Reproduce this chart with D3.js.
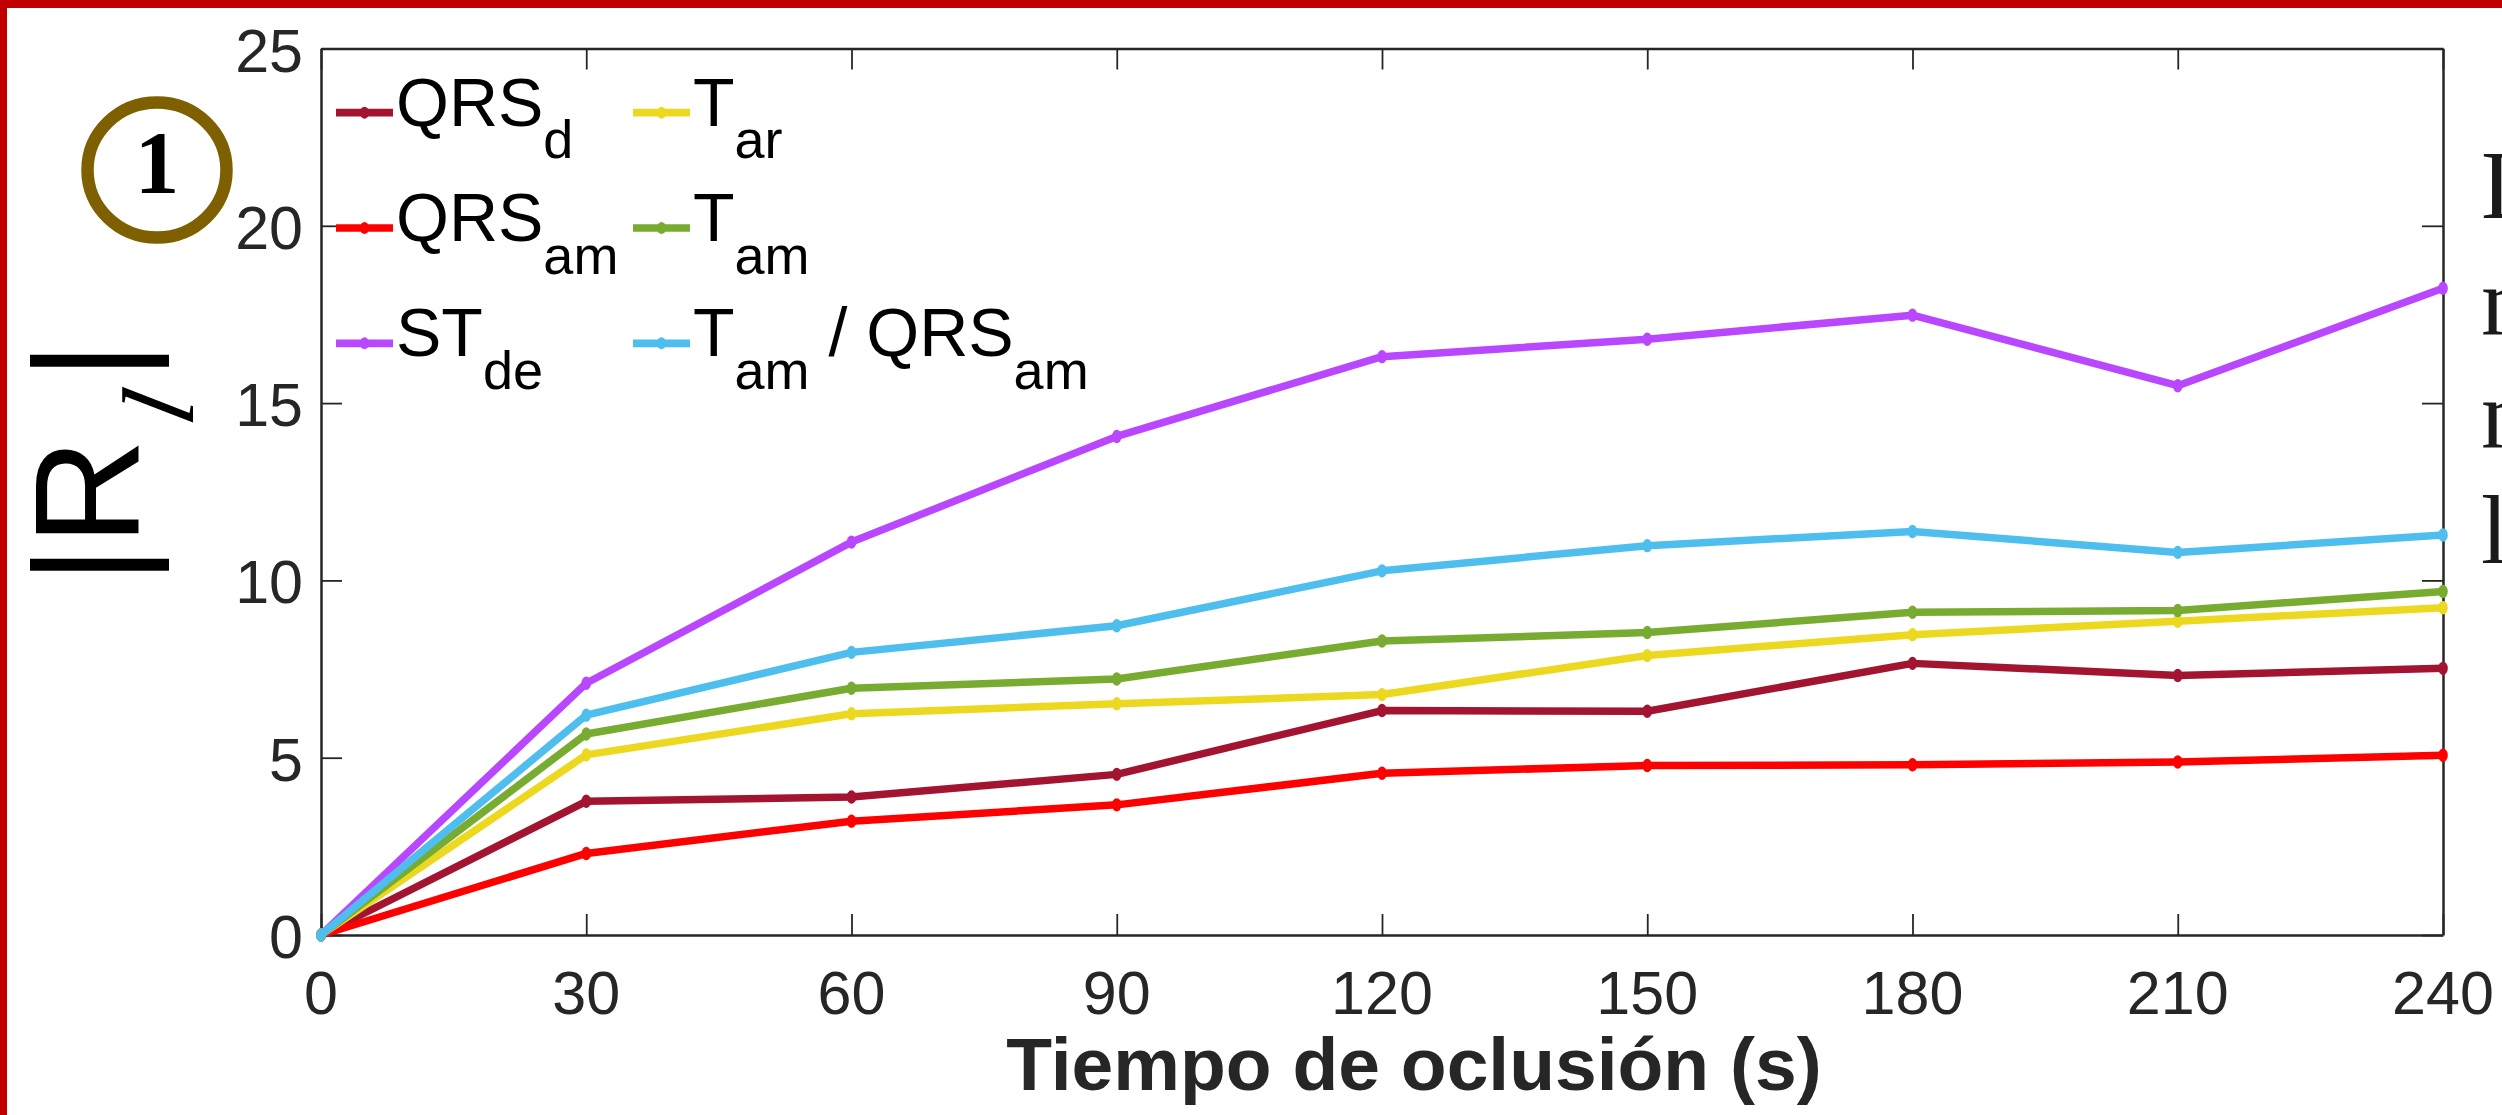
<!DOCTYPE html>
<html>
<head>
<meta charset="utf-8">
<script src="https://cdn.jsdelivr.net/npm/d3@7/dist/d3.min.js"></script>
<style>
  html, body { margin: 0; padding: 0; background: #ffffff; overflow: hidden; }
  svg { display: block; }
</style>
</head>
<body>
<svg id="chart" width="2502" height="1115"></svg>
<script>
// ---------------- data ----------------
const times = [0, 30, 60, 90, 120, 150, 180, 210, 240];
const xTicks = [0, 30, 60, 90, 120, 150, 180, 210, 240];
const yTicks = [0, 5, 10, 15, 20, 25];

const QRS_d   = [0, 3.77, 3.89, 4.53, 6.33, 6.31, 7.66, 7.32, 7.52];
const QRS_am  = [0, 2.30, 3.21, 3.67, 4.56, 4.78, 4.80, 4.88, 5.07];
const ST_de   = [0, 7.10, 11.08, 14.06, 16.31, 16.80, 17.48, 15.49, 18.24];
const T_ar    = [0, 5.08, 6.24, 6.52, 6.78, 7.88, 8.47, 8.85, 9.23];
const T_am    = [0, 5.67, 6.96, 7.22, 8.29, 8.53, 9.10, 9.15, 9.69];
const T_am_QRS_am = [0, 6.20, 7.97, 8.72, 10.27, 10.98, 11.38, 10.79, 11.28];

const seriesNames = ["QRS_d", "QRS_am", "ST_de", "T_ar", "T_am", "T_am / QRS_am"];
const seriesValues = [QRS_d, QRS_am, ST_de, T_ar, T_am, T_am_QRS_am];
const seriesColors = ["#A2142F", "#FF0000", "#B847FF", "#EDD820", "#77AC30", "#4DBEEE"];
// legend label parts: [text, isSubscript]
const legendLabels = [
  [["QRS", false], ["d", true]],
  [["QRS", false], ["am", true]],
  [["ST", false], ["de", true]],
  [["T", false], ["ar", true]],
  [["T", false], ["am", true]],
  [["T", false], ["am", true], [" / QRS", false], ["am", true]]
];
const xTitle = "Tiempo de oclusión (s)";
const sideLetters = ["L", "n", "n", "l"];

// ---------------- layout ----------------
const svg = d3.select("#chart");
const L = 321, R = 2443, T = 48.5, B = 935;
const x = d3.scaleLinear().domain([0, 240]).range([L, R]);
const y = d3.scaleLinear().domain([0, 25]).range([B, T]);
const axisColor = "#262626";
const sans = "'Liberation Sans', Arial, Helvetica, sans-serif";
const serif = "'Liberation Serif', 'Times New Roman', serif";

// red frame (top and left)
svg.append("rect").attr("x", 0).attr("y", 0).attr("width", 2502).attr("height", 8).attr("fill", "#C00000");
svg.append("rect").attr("x", 0).attr("y", 0).attr("width", 7).attr("height", 1115).attr("fill", "#C00000");

// axes
const tickLen = 21;
const gx = svg.append("g").attr("transform", `translate(0,${B})`)
  .call(d3.axisBottom(x).tickValues(xTicks).tickSizeInner(-tickLen).tickSizeOuter(0).tickFormat(""));
const gxTop = svg.append("g").attr("transform", `translate(0,${T})`)
  .call(d3.axisTop(x).tickValues(xTicks).tickSizeInner(-tickLen).tickSizeOuter(0).tickFormat(""));
const gy = svg.append("g").attr("transform", `translate(${L},0)`)
  .call(d3.axisLeft(y).tickValues(yTicks).tickSizeInner(-tickLen).tickSizeOuter(0).tickFormat(""));
const gyR = svg.append("g").attr("transform", `translate(${R},0)`)
  .call(d3.axisRight(y).tickValues(yTicks).tickSizeInner(-tickLen).tickSizeOuter(0).tickFormat(""));
[gx, gxTop, gy, gyR].forEach(g => {
  g.select(".domain").attr("stroke", axisColor).attr("stroke-width", 2.5);
  g.selectAll(".tick line").attr("stroke", axisColor).attr("stroke-width", 1.8);
  g.selectAll(".tick text").remove();
});

// tick labels
svg.append("g").selectAll("text").data(xTicks).join("text")
  .attr("x", d => x(d)).attr("y", B + 79)
  .attr("text-anchor", "middle")
  .attr("font-family", sans).attr("font-size", 61).attr("fill", axisColor)
  .text(d => d);
svg.append("g").selectAll("text").data(yTicks).join("text")
  .attr("x", 303).attr("y", d => y(d) + 23)
  .attr("text-anchor", "end")
  .attr("font-family", sans).attr("font-size", 61).attr("fill", axisColor)
  .text(d => d);

// x title
svg.append("text").attr("x", 1414).attr("y", 1090).attr("text-anchor", "middle")
  .attr("font-family", sans).attr("font-weight", "bold").attr("font-size", 75)
  .attr("fill", axisColor).text(xTitle);

// y label |R_l|
svg.append("text").attr("transform", "translate(138,584) rotate(-90)")
  .attr("font-family", sans).attr("font-size", 148).attr("fill", "#000").text("|R");
svg.append("text").attr("transform", "translate(193,428) rotate(-90) skewX(-12)")
  .attr("font-family", serif).attr("font-style", "italic").attr("font-size", 102)
  .attr("fill", "#000").text("l");
svg.append("text").attr("transform", "translate(138,380) rotate(-90)")
  .attr("font-family", sans).attr("font-size", 148).attr("fill", "#000").text("|");

// circled 1
svg.append("ellipse").attr("cx", 157).attr("cy", 170).attr("rx", 69.5).attr("ry", 67.5)
  .attr("fill", "none").attr("stroke", "#7F6000").attr("stroke-width", 12.5);
svg.append("text").attr("x", 157).attr("y", 191.5).attr("text-anchor", "middle")
  .attr("font-family", serif).attr("font-weight", "bold").attr("font-size", 89)
  .attr("fill", "#000").text("1");

// side text (cut off at the right edge, as in the source slide)
const sideBase = [218, 334, 447, 563];
svg.append("g").selectAll("text").data(sideLetters).join("text")
  .attr("x", 2481).attr("y", (d, i) => sideBase[i])
  .attr("font-family", serif).attr("font-size", 98).attr("fill", "#1a1a1a")
  .text(d => d);

// series
const line = d3.line().x((d, i) => x(times[i])).y(d => y(d));
const plot = svg.append("g");
seriesValues.forEach((vals, k) => {
  const g = plot.append("g");
  g.append("path").datum(vals).attr("d", line)
    .attr("fill", "none").attr("stroke", seriesColors[k]).attr("stroke-width", 7.5)
    .attr("stroke-linejoin", "round");
  g.selectAll("ellipse").data(vals).join("ellipse")
    .attr("cx", (d, i) => x(times[i])).attr("cy", d => y(d))
    .attr("rx", 4.8).attr("ry", 6.7).attr("fill", seriesColors[k]);
});

// legend (2 columns, column-major)
const legCols = [336, 633];
const legBase = [125.7, 241, 356.3];
const legend = svg.append("g");
seriesNames.forEach((name, k) => {
  const col = Math.floor(k / 3), row = k % 3;
  const lx = legCols[col], by = legBase[row], ly = by - 13;
  legend.append("line").attr("x1", lx).attr("x2", lx + 57).attr("y1", ly).attr("y2", ly)
    .attr("stroke", seriesColors[k]).attr("stroke-width", 7.7);
  legend.append("ellipse").attr("cx", lx + 28.5).attr("cy", ly).attr("rx", 4.5).attr("ry", 6)
    .attr("fill", seriesColors[k]);
  const t = legend.append("text").attr("x", lx + 60).attr("y", by)
    .attr("font-family", sans).attr("font-size", 68).attr("fill", "#000")
    .style("white-space", "pre");
  let shifted = false;
  legendLabels[k].forEach(([txt, sub]) => {
    const ts = t.append("tspan").text(txt);
    if (sub) { ts.attr("dy", shifted ? 0 : 32.6).attr("font-size", 54); shifted = true; }
    else if (shifted) { ts.attr("dy", -32.6); shifted = false; }
  });
});
</script>
</body>
</html>
